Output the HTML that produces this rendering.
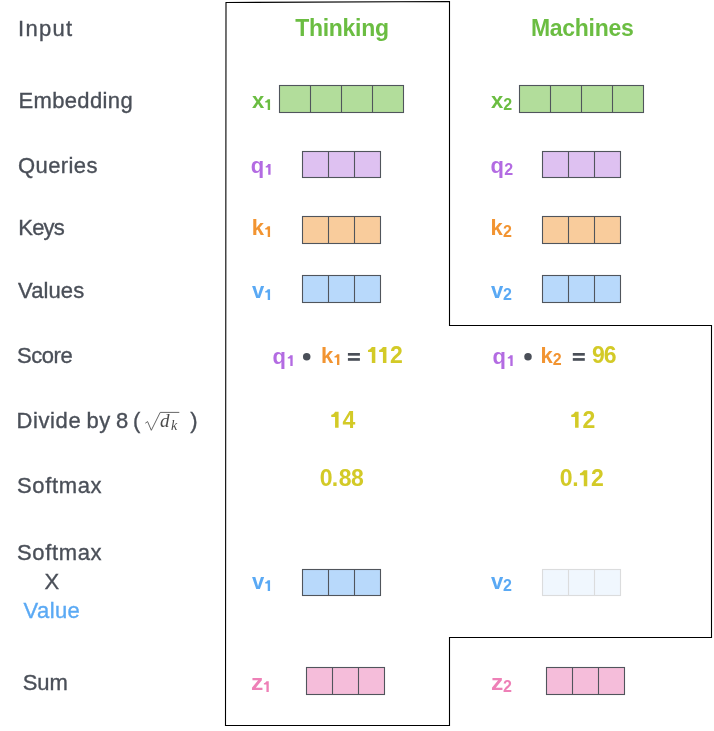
<!DOCTYPE html>
<html><head><meta charset="utf-8"><style>
html,body{margin:0;padding:0;background:#fff;width:714px;height:731px;overflow:hidden;}
.t{position:absolute;line-height:1;white-space:nowrap;backface-visibility:hidden;}
svg{position:absolute;left:0;top:0;}
</style></head><body>
<svg width="714" height="731" viewBox="0 0 714 731"><g><rect x="279.5" y="85.5" width="124" height="27" fill="#b2dd9b" stroke="#50555c" stroke-width="1.1"/><line x1="310.5" y1="85.5" x2="310.5" y2="112.5" stroke="#50555c" stroke-width="1.1"/><line x1="341.5" y1="85.5" x2="341.5" y2="112.5" stroke="#50555c" stroke-width="1.1"/><line x1="372.5" y1="85.5" x2="372.5" y2="112.5" stroke="#50555c" stroke-width="1.1"/></g><g><rect x="302.5" y="151.5" width="78" height="26" fill="#dec1f1" stroke="#50555c" stroke-width="1.1"/><line x1="328.5" y1="151.5" x2="328.5" y2="177.5" stroke="#50555c" stroke-width="1.1"/><line x1="354.5" y1="151.5" x2="354.5" y2="177.5" stroke="#50555c" stroke-width="1.1"/></g><g><rect x="302.5" y="216.5" width="78" height="27" fill="#f9cc9c" stroke="#50555c" stroke-width="1.1"/><line x1="328.5" y1="216.5" x2="328.5" y2="243.5" stroke="#50555c" stroke-width="1.1"/><line x1="354.5" y1="216.5" x2="354.5" y2="243.5" stroke="#50555c" stroke-width="1.1"/></g><g><rect x="302.5" y="275.5" width="78" height="27" fill="#b8d9fb" stroke="#50555c" stroke-width="1.1"/><line x1="328.5" y1="275.5" x2="328.5" y2="302.5" stroke="#50555c" stroke-width="1.1"/><line x1="354.5" y1="275.5" x2="354.5" y2="302.5" stroke="#50555c" stroke-width="1.1"/></g><g><rect x="306.5" y="667.5" width="78" height="27" fill="#f5bdda" stroke="#50555c" stroke-width="1.1"/><line x1="332.5" y1="667.5" x2="332.5" y2="694.5" stroke="#50555c" stroke-width="1.1"/><line x1="358.5" y1="667.5" x2="358.5" y2="694.5" stroke="#50555c" stroke-width="1.1"/></g><g><rect x="519.5" y="85.5" width="124" height="27" fill="#b2dd9b" stroke="#50555c" stroke-width="1.1"/><line x1="550.5" y1="85.5" x2="550.5" y2="112.5" stroke="#50555c" stroke-width="1.1"/><line x1="581.5" y1="85.5" x2="581.5" y2="112.5" stroke="#50555c" stroke-width="1.1"/><line x1="612.5" y1="85.5" x2="612.5" y2="112.5" stroke="#50555c" stroke-width="1.1"/></g><g><rect x="542.5" y="151.5" width="78" height="26" fill="#dec1f1" stroke="#50555c" stroke-width="1.1"/><line x1="568.5" y1="151.5" x2="568.5" y2="177.5" stroke="#50555c" stroke-width="1.1"/><line x1="594.5" y1="151.5" x2="594.5" y2="177.5" stroke="#50555c" stroke-width="1.1"/></g><g><rect x="542.5" y="216.5" width="78" height="27" fill="#f9cc9c" stroke="#50555c" stroke-width="1.1"/><line x1="568.5" y1="216.5" x2="568.5" y2="243.5" stroke="#50555c" stroke-width="1.1"/><line x1="594.5" y1="216.5" x2="594.5" y2="243.5" stroke="#50555c" stroke-width="1.1"/></g><g><rect x="542.5" y="275.5" width="78" height="27" fill="#b8d9fb" stroke="#50555c" stroke-width="1.1"/><line x1="568.5" y1="275.5" x2="568.5" y2="302.5" stroke="#50555c" stroke-width="1.1"/><line x1="594.5" y1="275.5" x2="594.5" y2="302.5" stroke="#50555c" stroke-width="1.1"/></g><g><rect x="546.5" y="667.5" width="78" height="27" fill="#f5bdda" stroke="#50555c" stroke-width="1.1"/><line x1="572.5" y1="667.5" x2="572.5" y2="694.5" stroke="#50555c" stroke-width="1.1"/><line x1="598.5" y1="667.5" x2="598.5" y2="694.5" stroke="#50555c" stroke-width="1.1"/></g><g><rect x="302.5" y="569.5" width="78" height="26" fill="#b8d9fb" stroke="#50555c" stroke-width="1.1"/><line x1="328.5" y1="569.5" x2="328.5" y2="595.5" stroke="#50555c" stroke-width="1.1"/><line x1="354.5" y1="569.5" x2="354.5" y2="595.5" stroke="#50555c" stroke-width="1.1"/></g><g opacity="0.2"><rect x="542.5" y="569.5" width="78" height="26" fill="#b8d9fb" stroke="#50555c" stroke-width="1.1"/><line x1="568.5" y1="569.5" x2="568.5" y2="595.5" stroke="#50555c" stroke-width="1.1"/><line x1="594.5" y1="569.5" x2="594.5" y2="595.5" stroke="#50555c" stroke-width="1.1"/></g><path d="M226 2.5 L449.5 1.5 L449.5 325.5 L711.5 325.5 L711.5 637.5 L449.5 637.5 L449.5 725.5 L225.5 725.5 Z" fill="none" stroke="#000" stroke-width="1.1"/><polygon points="267.72,99.20 270.07,99.20 270.07,109.90 267.72,109.90 267.72,102.62 265.26,102.62 265.10,101.88 265.26,101.23 266.38,100.81 267.24,99.95" fill="#6bbd42"/><polygon points="268.22,164.10 270.57,164.10 270.57,174.80 268.22,174.80 268.22,167.52 265.76,167.52 265.60,166.78 265.76,166.13 266.88,165.71 267.74,164.85" fill="#b36be2"/><polygon points="267.72,226.20 270.07,226.20 270.07,236.90 267.72,236.90 267.72,229.62 265.26,229.62 265.10,228.88 265.26,228.23 266.38,227.81 267.24,226.95" fill="#f29431"/><polygon points="267.72,289.20 270.07,289.20 270.07,299.90 267.72,299.90 267.72,292.62 265.26,292.62 265.10,291.88 265.26,291.23 266.38,290.81 267.24,289.95" fill="#5aa9f4"/><polygon points="267.72,580.20 270.07,580.20 270.07,590.90 267.72,590.90 267.72,583.62 265.26,583.62 265.10,582.87 265.26,582.23 266.38,581.80 267.24,580.95" fill="#5aa9f4"/><polygon points="266.42,681.20 268.77,681.20 268.77,691.90 266.42,691.90 266.42,684.62 263.96,684.62 263.80,683.87 263.96,683.23 265.08,682.80 265.94,681.95" fill="#ee80b7"/><polygon points="290.32,355.20 292.67,355.20 292.67,365.90 290.32,365.90 290.32,358.62 287.86,358.62 287.70,357.88 287.86,357.23 288.98,356.81 289.84,355.95" fill="#b36be2"/><circle cx="306.7" cy="356.7" r="3.75" fill="#4a4f58"/><polygon points="337.02,354.20 339.37,354.20 339.37,364.90 337.02,364.90 337.02,357.62 334.56,357.62 334.40,356.88 334.56,356.23 335.68,355.81 336.54,354.95" fill="#f29431"/><rect x="347.9" y="353" width="12" height="2.7" fill="#4a4f58"/><rect x="347.9" y="358.1" width="12" height="2.7" fill="#4a4f58"/><polygon points="510.32,355.20 512.67,355.20 512.67,365.90 510.32,365.90 510.32,358.62 507.86,358.62 507.70,357.88 507.86,357.23 508.98,356.81 509.84,355.95" fill="#b36be2"/><circle cx="528" cy="356.7" r="3.75" fill="#4a4f58"/><rect x="572.8" y="353" width="12" height="2.7" fill="#4a4f58"/><rect x="572.8" y="358.1" width="12" height="2.7" fill="#4a4f58"/><polygon points="371.82,346.90 375.34,346.90 375.34,362.90 371.82,362.90 371.82,352.02 368.14,352.02 367.90,350.90 368.14,349.94 369.82,349.30 371.10,348.02" fill="#d3ca27"/><polygon points="382.92,346.90 386.44,346.90 386.44,362.90 382.92,362.90 382.92,352.02 379.24,352.02 379.00,350.90 379.24,349.94 380.92,349.30 382.20,348.02" fill="#d3ca27"/><polygon points="335.07,411.80 338.59,411.80 338.59,427.80 335.07,427.80 335.07,416.92 331.39,416.92 331.15,415.80 331.39,414.84 333.07,414.20 334.35,412.92" fill="#d3ca27"/><polygon points="575.07,411.80 578.59,411.80 578.59,427.80 575.07,427.80 575.07,416.92 571.39,416.92 571.15,415.80 571.39,414.84 573.07,414.20 574.35,412.92" fill="#d3ca27"/><polygon points="583.77,470.20 587.29,470.20 587.29,486.20 583.77,486.20 583.77,475.32 580.09,475.32 579.85,474.20 580.09,473.24 581.77,472.60 583.05,471.32" fill="#d3ca27"/><path d="M145.3 423.2 L147.6 421.6 L151.3 430.3 L160.2 412.4 L179.3 412.4" fill="none" stroke="#4a4a4a" stroke-width="0.85" stroke-linejoin="miter"/></svg>
<div class="t" style="left:18px;top:18px;font-size:22px;color:#4a4f58;font-weight:400;letter-spacing:1.3px;font-family:'Liberation Sans',sans-serif;-webkit-text-stroke:0.35px #4a4f58;">Input</div><div class="t" style="left:18.4px;top:90px;font-size:22px;color:#4a4f58;font-weight:400;letter-spacing:0.37px;font-family:'Liberation Sans',sans-serif;-webkit-text-stroke:0.35px #4a4f58;">Embedding</div><div class="t" style="left:18px;top:155px;font-size:22px;color:#4a4f58;font-weight:400;letter-spacing:0.4px;font-family:'Liberation Sans',sans-serif;-webkit-text-stroke:0.35px #4a4f58;">Queries</div><div class="t" style="left:18.35px;top:217px;font-size:22px;color:#4a4f58;font-weight:400;letter-spacing:-0.85px;font-family:'Liberation Sans',sans-serif;-webkit-text-stroke:0.35px #4a4f58;">Keys</div><div class="t" style="left:18px;top:280px;font-size:22px;color:#4a4f58;font-weight:400;letter-spacing:0.1px;font-family:'Liberation Sans',sans-serif;-webkit-text-stroke:0.35px #4a4f58;">Values</div><div class="t" style="left:17px;top:345px;font-size:22px;color:#4a4f58;font-weight:400;letter-spacing:-0.46px;font-family:'Liberation Sans',sans-serif;-webkit-text-stroke:0.35px #4a4f58;">Score</div><div class="t" style="left:17px;top:475px;font-size:22px;color:#4a4f58;font-weight:400;letter-spacing:0.65px;font-family:'Liberation Sans',sans-serif;-webkit-text-stroke:0.35px #4a4f58;">Softmax</div><div class="t" style="left:17px;top:542px;font-size:22px;color:#4a4f58;font-weight:400;letter-spacing:0.65px;font-family:'Liberation Sans',sans-serif;-webkit-text-stroke:0.35px #4a4f58;">Softmax</div><div class="t" style="left:44.4px;top:571px;font-size:22px;color:#4a4f58;font-weight:400;letter-spacing:0px;font-family:'Liberation Sans',sans-serif;-webkit-text-stroke:0.35px #4a4f58;">X</div><div class="t" style="left:22.7px;top:672px;font-size:22px;color:#4a4f58;font-weight:400;letter-spacing:0px;font-family:'Liberation Sans',sans-serif;-webkit-text-stroke:0.35px #4a4f58;">Sum</div><div class="t" style="left:23.6px;top:600px;font-size:22px;color:#5aa9f4;font-weight:400;letter-spacing:0.4px;font-family:'Liberation Sans',sans-serif;-webkit-text-stroke:0.35px #5aa9f4;">Value</div><div class="t" style="left:16.5px;top:410px;font-size:22px;color:#4a4f58;font-weight:400;letter-spacing:0.6px;font-family:'Liberation Sans',sans-serif;-webkit-text-stroke:0.35px #4a4f58;">Divide</div><div class="t" style="left:86.5px;top:410px;font-size:22px;color:#4a4f58;font-weight:400;letter-spacing:0.5px;font-family:'Liberation Sans',sans-serif;-webkit-text-stroke:0.35px #4a4f58;">by</div><div class="t" style="left:116px;top:410px;font-size:22px;color:#4a4f58;font-weight:400;letter-spacing:0px;font-family:'Liberation Sans',sans-serif;-webkit-text-stroke:0.35px #4a4f58;">8</div><div class="t" style="left:133px;top:410px;font-size:22px;color:#4a4f58;font-weight:400;letter-spacing:0px;font-family:'Liberation Sans',sans-serif;-webkit-text-stroke:0.35px #4a4f58;">(</div><div class="t" style="left:190.3px;top:410px;font-size:22px;color:#4a4f58;font-weight:400;letter-spacing:0px;font-family:'Liberation Sans',sans-serif;-webkit-text-stroke:0.35px #4a4f58;">)</div><div class="t" style="left:295.25px;top:17px;font-size:23px;color:#6bbd42;font-weight:700;letter-spacing:-0.3px;font-family:'Liberation Sans',sans-serif;">Thinking</div><div class="t" style="left:531px;top:17px;font-size:23px;color:#6bbd42;font-weight:700;letter-spacing:-0.3px;font-family:'Liberation Sans',sans-serif;">Machines</div><div class="t" style="left:252px;top:90px;font-size:22px;color:#6bbd42;font-weight:700;letter-spacing:0px;font-family:'Liberation Sans',sans-serif;">x</div><div class="t" style="left:250.65px;top:155px;font-size:22px;color:#b36be2;font-weight:700;letter-spacing:0px;font-family:'Liberation Sans',sans-serif;">q</div><div class="t" style="left:251.65px;top:217px;font-size:22px;color:#f29431;font-weight:700;letter-spacing:0px;font-family:'Liberation Sans',sans-serif;">k</div><div class="t" style="left:252px;top:280px;font-size:22px;color:#5aa9f4;font-weight:700;letter-spacing:0px;font-family:'Liberation Sans',sans-serif;">v</div><div class="t" style="left:252px;top:571px;font-size:22px;color:#5aa9f4;font-weight:700;letter-spacing:0px;font-family:'Liberation Sans',sans-serif;">v</div><div class="t" style="left:251.2px;top:672px;font-size:22px;color:#ee80b7;font-weight:700;letter-spacing:0px;font-family:'Liberation Sans',sans-serif;transform:scaleX(1.12);transform-origin:0 0;">z</div><div class="t" style="left:491px;top:90px;font-size:22px;color:#6bbd42;font-weight:700;letter-spacing:0px;font-family:'Liberation Sans',sans-serif;">x</div><div class="t" style="left:503.15000000000003px;top:96.9px;font-size:16px;color:#6bbd42;font-weight:700;letter-spacing:0px;font-family:'Liberation Sans',sans-serif;">2</div><div class="t" style="left:490.45px;top:155px;font-size:22px;color:#b36be2;font-weight:700;letter-spacing:0px;font-family:'Liberation Sans',sans-serif;">q</div><div class="t" style="left:504.34999999999997px;top:161.8px;font-size:16px;color:#b36be2;font-weight:700;letter-spacing:0px;font-family:'Liberation Sans',sans-serif;">2</div><div class="t" style="left:490.6px;top:217px;font-size:22px;color:#f29431;font-weight:700;letter-spacing:0px;font-family:'Liberation Sans',sans-serif;">k</div><div class="t" style="left:502.95px;top:223.9px;font-size:16px;color:#f29431;font-weight:700;letter-spacing:0px;font-family:'Liberation Sans',sans-serif;">2</div><div class="t" style="left:491px;top:280px;font-size:22px;color:#5aa9f4;font-weight:700;letter-spacing:0px;font-family:'Liberation Sans',sans-serif;">v</div><div class="t" style="left:502.95px;top:286.9px;font-size:16px;color:#5aa9f4;font-weight:700;letter-spacing:0px;font-family:'Liberation Sans',sans-serif;">2</div><div class="t" style="left:491px;top:571px;font-size:22px;color:#5aa9f4;font-weight:700;letter-spacing:0px;font-family:'Liberation Sans',sans-serif;">v</div><div class="t" style="left:502.95px;top:577.9px;font-size:16px;color:#5aa9f4;font-weight:700;letter-spacing:0px;font-family:'Liberation Sans',sans-serif;">2</div><div class="t" style="left:491.2px;top:672px;font-size:22px;color:#ee80b7;font-weight:700;letter-spacing:0px;font-family:'Liberation Sans',sans-serif;transform:scaleX(1.12);transform-origin:0 0;">z</div><div class="t" style="left:502.95px;top:678.9px;font-size:16px;color:#ee80b7;font-weight:700;letter-spacing:0px;font-family:'Liberation Sans',sans-serif;">2</div><div class="t" style="left:272.6px;top:346px;font-size:22px;color:#b36be2;font-weight:700;letter-spacing:0px;font-family:'Liberation Sans',sans-serif;">q</div><div class="t" style="left:321px;top:345px;font-size:22px;color:#f29431;font-weight:700;letter-spacing:0px;font-family:'Liberation Sans',sans-serif;">k</div><div class="t" style="left:492.6px;top:346px;font-size:22px;color:#b36be2;font-weight:700;letter-spacing:0px;font-family:'Liberation Sans',sans-serif;">q</div><div class="t" style="left:540.6px;top:345px;font-size:22px;color:#f29431;font-weight:700;letter-spacing:0px;font-family:'Liberation Sans',sans-serif;">k</div><div class="t" style="left:552.8499999999999px;top:351.8px;font-size:16px;color:#f29431;font-weight:700;letter-spacing:0px;font-family:'Liberation Sans',sans-serif;">2</div><div class="t" style="left:389.9px;top:343.9px;font-size:23px;color:#d3ca27;font-weight:700;letter-spacing:0px;font-family:'Liberation Sans',sans-serif;">2</div><div class="t" style="left:591.9px;top:343.9px;font-size:23px;color:#d3ca27;font-weight:700;letter-spacing:0px;font-family:'Liberation Sans',sans-serif;">9</div><div class="t" style="left:603.8px;top:343.9px;font-size:23px;color:#d3ca27;font-weight:700;letter-spacing:0px;font-family:'Liberation Sans',sans-serif;">6</div><div class="t" style="left:342.5px;top:408.8px;font-size:23px;color:#d3ca27;font-weight:700;letter-spacing:0px;font-family:'Liberation Sans',sans-serif;">4</div><div class="t" style="left:582.45px;top:408.8px;font-size:23px;color:#d3ca27;font-weight:700;letter-spacing:0px;font-family:'Liberation Sans',sans-serif;">2</div><div class="t" style="left:319.7px;top:467.2px;font-size:23px;color:#d3ca27;font-weight:700;letter-spacing:0px;font-family:'Liberation Sans',sans-serif;">0</div><div class="t" style="left:331.8px;top:467.2px;font-size:23px;color:#d3ca27;font-weight:700;letter-spacing:0px;font-family:'Liberation Sans',sans-serif;">.</div><div class="t" style="left:338.8px;top:467.2px;font-size:23px;color:#d3ca27;font-weight:700;letter-spacing:0px;font-family:'Liberation Sans',sans-serif;">8</div><div class="t" style="left:350.9px;top:467.2px;font-size:23px;color:#d3ca27;font-weight:700;letter-spacing:0px;font-family:'Liberation Sans',sans-serif;">8</div><div class="t" style="left:559.7px;top:467.2px;font-size:23px;color:#d3ca27;font-weight:700;letter-spacing:0px;font-family:'Liberation Sans',sans-serif;">0</div><div class="t" style="left:572.3px;top:467.2px;font-size:23px;color:#d3ca27;font-weight:700;letter-spacing:0px;font-family:'Liberation Sans',sans-serif;">.</div><div class="t" style="left:591.0px;top:467.2px;font-size:23px;color:#d3ca27;font-weight:700;letter-spacing:0px;font-family:'Liberation Sans',sans-serif;">2</div><div class="t" style="left:160.1px;top:411.2px;font-size:19px;color:#4a4a4a;font-weight:400;letter-spacing:0px;font-family:'Liberation Serif',serif;font-style:italic;">d</div><div class="t" style="left:170.9px;top:419.4px;font-size:14px;color:#4a4a4a;font-weight:400;letter-spacing:0px;font-family:'Liberation Serif',serif;font-style:italic;">k</div>
</body></html>
